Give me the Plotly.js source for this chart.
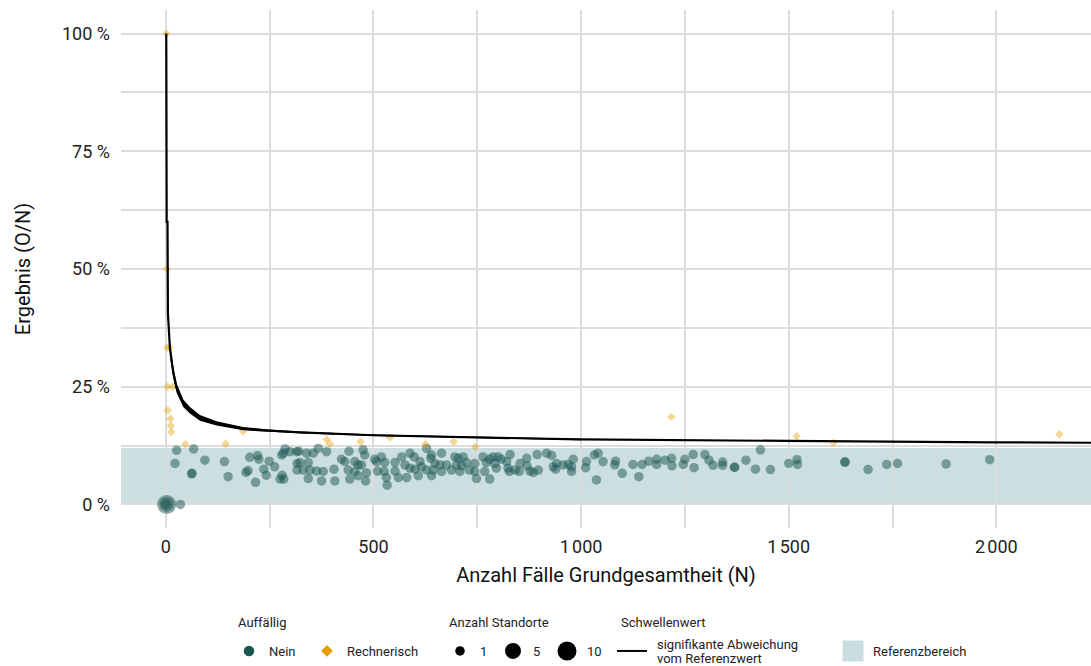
<!DOCTYPE html>
<html>
<head>
<meta charset="utf-8">
<script src="https://cdn.plot.ly/plotly-3.0.1.min.js"></script>
<style>html,body{margin:0;padding:0;background:#fff;overflow:hidden;}</style>
</head>
<body>
<div id="chart" style="width:1091px;height:666px;"></div>
<script>
// ---- Data ----
// Unauffällige Standorte ("Nein"): N, Ergebnis in %
const neinN = [26,67,22,62,63,94,141,150,202,221,224,193,198,236,242,216,249,262,287,279,283,299,275,284,280,315,316,316,
320,339,355,367,387,323,343,331,347,363,379,343,375,405,407,423,431,441,439,443,455,463,455,463,475,479,471,483,481,503,507,519,527,510,526,531,533,552,552,560,568,576,580,588,598,588,600,612,616,608,628,628,638,640,
640,648,660,644,664,664,676,688,696,704,716,700,712,708,724,731,744,748,744,764,772,768,780,780,788,792,800,796,808,821,824,827,829,841,853,851,869,870,877,885,897,894,917,929,933,941,939,957,
969,977,981,977,1013,1011,1032,1041,1053,1037,1083,1081,1099,1125,1139,1147,1163,1182,1182,1202,1218,1219,1246,1250,1270,1272,
1298,1308,1318,1341,1341,1369,1370,1397,1420,1432,1456,1500,1520,1521,1635,1636,1691,1736,1762,1879,1984,
35,2,2,1];
const neinPct = [11.5,11.8,8.7,6.5,6.6,9.4,9.1,5.9,10.0,10.4,9.6,6.8,7.2,7.5,6.2,4.7,9.2,8.0,11.8,10.5,10.9,11.2,5.4,5.4,6.2,11.2,8.7,7.3,
11.3,10.9,10.9,11.9,11.2,8.9,8.9,7.3,7.3,7.1,7.0,5.5,5.0,7.5,5.0,9.6,9.1,11.3,7.3,5.4,9.1,8.4,7.0,6.1,11.6,10.5,8.4,6.7,5.0,9.6,9.1,10.1,8.9,7.1,7.0,5.7,4.1,8.9,7.1,5.7,10.1,8.4,5.7,10.9,10.1,7.7,7.5,9.1,8.0,6.1,11.9,7.3,9.8,6.1,
10.5,8.7,8.4,7.3,7.0,10.9,8.4,7.3,10.1,9.8,10.1,8.4,8.2,7.0,8.9,7.3,8.7,5.5,7.0,10.1,8.9,7.0,9.6,5.4,10.1,8.7,10.1,7.7,9.6,9.1,7.7,7.0,10.6,7.3,8.7,7.0,9.8,8.2,7.1,6.8,7.3,10.6,10.9,10.4,8.0,8.7,7.5,8.4,
8.5,8.0,9.6,7.0,9.1,7.8,10.5,10.9,9.1,5.2,9.2,8.4,6.6,8.5,5.9,8.5,9.2,9.6,8.5,9.4,9.8,8.2,8.5,9.6,10.6,7.8,
10.6,9.4,8.3,9.0,8.3,7.9,7.9,9.4,7.5,11.6,7.4,8.7,9.5,8.5,9.0,9.0,7.4,8.5,8.7,8.6,9.5,
0,0,0,0];
// Anzahl Standorte je Punkt (alle 1, außer den überlagerten Punkten bei 0 %)
const neinSites = neinN.map(() => 1);
neinSites[neinSites.length - 3] = 10;
neinSites[neinSites.length - 2] = 5;

// Rechnerisch auffällige Standorte: N, Ergebnis in %
const rechN = [1,2,3,9,4,16,5,11,12,13,47,144,186,387,395,469,540,625,693,745,1217,1519,1608,2152];
const rechPct = [100,50,33.3,33.3,25,25,20,18.2,16.7,15.4,12.8,12.9,15.5,13.8,12.9,13.3,14.2,12.8,13.3,12.2,18.6,14.5,13.1,14.9];

// Schwellenwert (signifikante Abweichung vom Referenzwert), Mittellinie
const thrN = [1,1,2,4,5,10,18,26,42,58,82,122,186,242,322,500,748,996,1494,1743,1990,2230];
const thrPct = [100,100,60,60,40.5,33,28,24.7,21.5,20,18.4,17.2,16.1,15.7,15.3,14.7,14.2,13.8,13.5,13.3,13.2,13.1];
// Sägezahn-Ausschlag des Schwellenwerts (obere / untere Hüllkurve)
const envN = [10,18,26,42,58,82,122,186,242,322,500,748,1000];
const envUpper = [34.6,29.2,25.7,22.3,20.7,19.0,17.65,16.45,15.95,15.5,14.85,14.35,13.95];
const envLower = [31.4,26.8,23.7,20.7,19.3,17.8,16.75,15.75,15.45,15.1,14.55,14.05,13.65];

// Referenzbereich (Ergebnis in %)
const refLow = 0, refHigh = 12;

// Achsen
const xTickVals = [0,500,1000,1500,2000];
const xTickText = ['0','500','1\u202f000','1\u202f500','2\u202f000'];
const xMinorVals = [250,750,1250,1750];
const yTickVals = [0,25,50,75,100];
const yTickText = ['0 %','25 %','50 %','75 %','100 %'];
const yMinorVals = [12.5,37.5,62.5,87.5];

// Legende
const sizeLegend = [1,5,10];
const legendTitles = ['Auffällig','Anzahl Standorte','Schwellenwert'];
const thresholdLabelLines = ['signifikante Abweichung','vom Referenzwert'];

// ---- Styles ----
const GREEN = '#1b5551';
const ORANGE = '#e69f00';
const FONT = 'Roboto, "Noto Sans", sans-serif';
function sizeFor(c){ return Math.sqrt(90.25 + (c-1)/9*(361-90.25)); }

const W = 1091, H = 666, ML = 121, MR = 0, MT = 10, MB = 138;
const PW = W-ML-MR, PH = H-MT-MB;
const ax = p => (p-ML)/PW;          // pixel -> paper x
const ay = p => (H-MB-p)/PH;        // pixel -> paper y

const traces = [];
traces.push({
  type:'scatter', mode:'markers', x: neinN, y: neinPct.map(v=>v/100),
  marker:{color:GREEN, opacity:0.5, size: neinSites.map(sizeFor), line:{width:0}},
  showlegend:false, hoverinfo:'x+y'
});
traces.push({
  type:'scatter', mode:'markers', x: rechN, y: rechPct.map(v=>v/100),
  marker:{color:ORANGE, opacity:0.42, symbol:'diamond', size:6.5, line:{width:0}},
  showlegend:false, hoverinfo:'x+y'
});
traces.push({
  type:'scatter', mode:'lines', x: envN.concat(envN.slice().reverse()),
  y: envUpper.concat(envLower.slice().reverse()).map(v=>v/100),
  fill:'toself', fillcolor:'#000', line:{width:0}, showlegend:false, hoverinfo:'skip'
});
traces.push({
  type:'scatter', mode:'lines', x: thrN, y: thrPct.map(v=>v/100),
  line:{color:'#000', width:2.2}, showlegend:false, hoverinfo:'x+y'
});

// Legend-only entries, each in its own legend box for exact placement
const legendItems = [];
function legItem(trace, symbolCenterPx){
  const id = 'legend' + (legendItems.length === 0 ? '' : (legendItems.length + 1));
  trace.legend = id; trace.x = [null]; trace.y = [null]; trace.type = 'scatter';
  legendItems.push({id, px: symbolCenterPx});
  traces.push(trace);
}
legItem({mode:'markers', name:'Nein', marker:{color:GREEN, size:10.5}}, 249);
legItem({mode:'markers', name:'Rechnerisch', marker:{color:ORANGE, size:9, symbol:'diamond'}}, 327);
const legMarkerSize = [9.5, 14, 16];
const legMarkerLine = [0, 2, 3];
const sizeLegPx = [460, 513, 567];
sizeLegend.forEach((s, i) => {
  legItem({mode:'markers', name:String(s),
    marker:{color:'#000', size:legMarkerSize[i], line:{color:'#000', width:legMarkerLine[i]}}}, sizeLegPx[i]);
});
legItem({mode:'lines', name:' ', line:{color:'#000', width:2}}, 632);
legItem({mode:'markers', name:'Referenzbereich',
  marker:{color:'#c9dcdf', size:16, symbol:'square', line:{color:'#c9dcdf', width:5}}}, 853);

const annFont = {family:FONT, size:13, color:'#222'};
const annotations = [];
[236, 447, 619].forEach((px, i) => {
  annotations.push({text:legendTitles[i], xref:'paper', yref:'paper', x:ax(px), y:ay(622),
    xanchor:'left', yanchor:'middle', showarrow:false, font:annFont});
});
[645, 658].forEach((py, i) => {
  annotations.push({text:thresholdLabelLines[i], xref:'paper', yref:'paper', x:ax(655), y:ay(py),
    xanchor:'left', yanchor:'middle', showarrow:false, font:annFont});
});

const GRID = '#dcdcdc';
const layout = {
  width: W, height: H,
  margin:{l:ML, r:MR, t:MT, b:MB, pad:0},
  paper_bgcolor:'#fff', plot_bgcolor:'#fff',
  font:{family:FONT, color:'#222'},
  xaxis:{
    range:[-108, 2228], tickvals:xTickVals, ticktext:xTickText,
    showgrid:true, gridcolor:GRID, gridwidth:2, zeroline:false, showline:false, ticks:'',
    ticklabelstandoff:6,
    minor:{tickmode:'array', tickvals:xMinorVals, showgrid:true, gridcolor:GRID, gridwidth:2},
    tickfont:{family:FONT, size:18, color:'#222'},
    title:{text:'Anzahl Fälle Grundgesamtheit (N)', font:{family:FONT, size:20, color:'#111'}, standoff:11},
    automargin:false, fixedrange:true
  },
  yaxis:{
    range:[-0.05, 1.05], tickvals:yTickVals.map(v=>v/100), ticktext:yTickText,
    showgrid:true, gridcolor:GRID, gridwidth:2, zeroline:false, showline:false, ticks:'',
    ticklabelstandoff:10,
    minor:{tickmode:'array', tickvals:yMinorVals.map(v=>v/100), showgrid:true, gridcolor:GRID, gridwidth:2},
    tickfont:{family:FONT, size:18, color:'#222'},
    title:{text:'Ergebnis (O/N)', font:{family:FONT, size:20, color:'#111'}, standoff:26},
    automargin:false, fixedrange:true
  },
  shapes:[{
    type:'rect', xref:'paper', yref:'y', x0:0, x1:1, y0:refLow/100, y1:refHigh/100,
    fillcolor:'rgb(82,145,152)', opacity:0.3, line:{width:0}, layer:'between'
  }],
  annotations: annotations,
  showlegend:true
};
legendItems.forEach(li => {
  layout[li.id] = {orientation:'h', bgcolor:'rgba(0,0,0,0)', borderwidth:0,
    font:{family:FONT, size:13, color:'#222'}, itemsizing:'trace', valign:'middle',
    x:ax(li.px - 20), y:ay(651), xanchor:'left', yanchor:'middle'};
});

Plotly.newPlot('chart', traces, layout, {displayModeBar:false, staticPlot:true});
</script>
</body>
</html>
